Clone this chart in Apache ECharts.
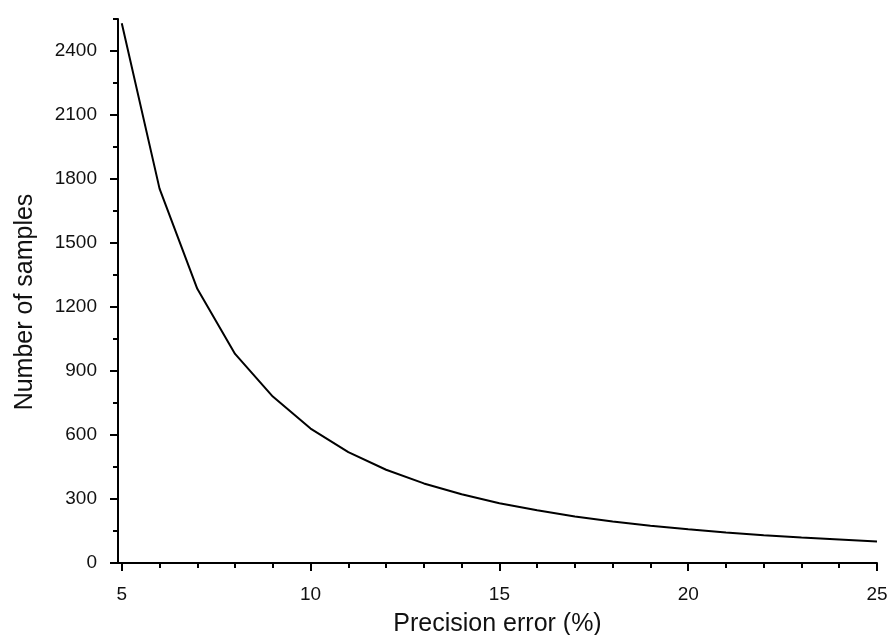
<!DOCTYPE html>
<html>
<head>
<meta charset="utf-8">
<script src="https://cdn.jsdelivr.net/npm/echarts@6/dist/echarts.min.js"></script>
<style>html,body{margin:0;padding:0;background:#fff}#c{width:891px;height:635px}</style>
</head>
<body>
<div id="c"></div>
<script>
const errors = [5,6,7,8,9,10,11,12,13,14,15,16,17,18,19,20,21,22,23,24,25];
const samples = [2530,1755,1285,980,780,630,520,437,373,322,280,247,218,195,175,158,143,130,119,110,101];
const xMajorTicks = [5,10,15,20,25];
const xMinorTicks = [6,7,8,9,11,12,13,14,16,17,18,19,21,22,23,24];
const yMajorTicks = [0,300,600,900,1200,1500,1800,2100,2400];
const yMinorTicks = [150,450,750,1050,1350,1650,1950,2250,2550];
const xName = 'Precision error (%)';
const yName = 'Number of samples';

const font = 'Liberation Sans, Arial, sans-serif';
const chart = echarts.init(document.getElementById('c'));
const lineStyle = {color:'#000', width:2};
const fmt = v => String(v);
chart.setOption({
  animation:false,
  grid:{left:118, right:14, top:19, bottom:72, containLabel:false, outerBoundsMode:'none'},
  xAxis:[{
    type:'value', min:4.9, max:25, position:'bottom',
    name:xName, nameLocation:'middle', nameGap:49,
    nameTextStyle:{fontFamily:font, fontSize:25, color:'#111'},
    axisLine:{show:true, onZero:false, lineStyle:lineStyle},
    axisTick:{show:true, customValues:xMajorTicks, length:8, lineStyle:lineStyle},
    axisLabel:{customValues:xMajorTicks, formatter:fmt, fontFamily:font, fontSize:19, color:'#111', margin:22},
    splitLine:{show:false}
  },{
    type:'value', min:4.9, max:25, position:'bottom',
    axisLine:{show:false, onZero:false},
    axisTick:{show:true, customValues:xMinorTicks, length:5, lineStyle:lineStyle},
    axisLabel:{show:false}, splitLine:{show:false}
  }],
  yAxis:[{
    type:'value', min:0, max:2550, position:'left',
    name:yName, nameLocation:'middle', nameGap:80,
    nameTextStyle:{fontFamily:font, fontSize:25, color:'#111', padding:[0,22,0,0]},
    axisLine:{show:true, onZero:false, lineStyle:lineStyle},
    axisTick:{show:true, customValues:yMajorTicks, length:8, lineStyle:lineStyle},
    axisLabel:{customValues:yMajorTicks, formatter:fmt, fontFamily:font, fontSize:19, color:'#111', margin:21},
    splitLine:{show:false}
  },{
    type:'value', min:0, max:2550, position:'left',
    axisLine:{show:false, onZero:false},
    axisTick:{show:true, customValues:yMinorTicks, length:5, lineStyle:lineStyle},
    axisLabel:{show:false}, splitLine:{show:false}
  }],
  series:[{
    type:'line', xAxisIndex:0, yAxisIndex:0,
    data: errors.map((e,i)=>[e, samples[i]]),
    showSymbol:false, symbol:'none',
    lineStyle:{color:'#000', width:2}
  }]
});
</script>
</body>
</html>
